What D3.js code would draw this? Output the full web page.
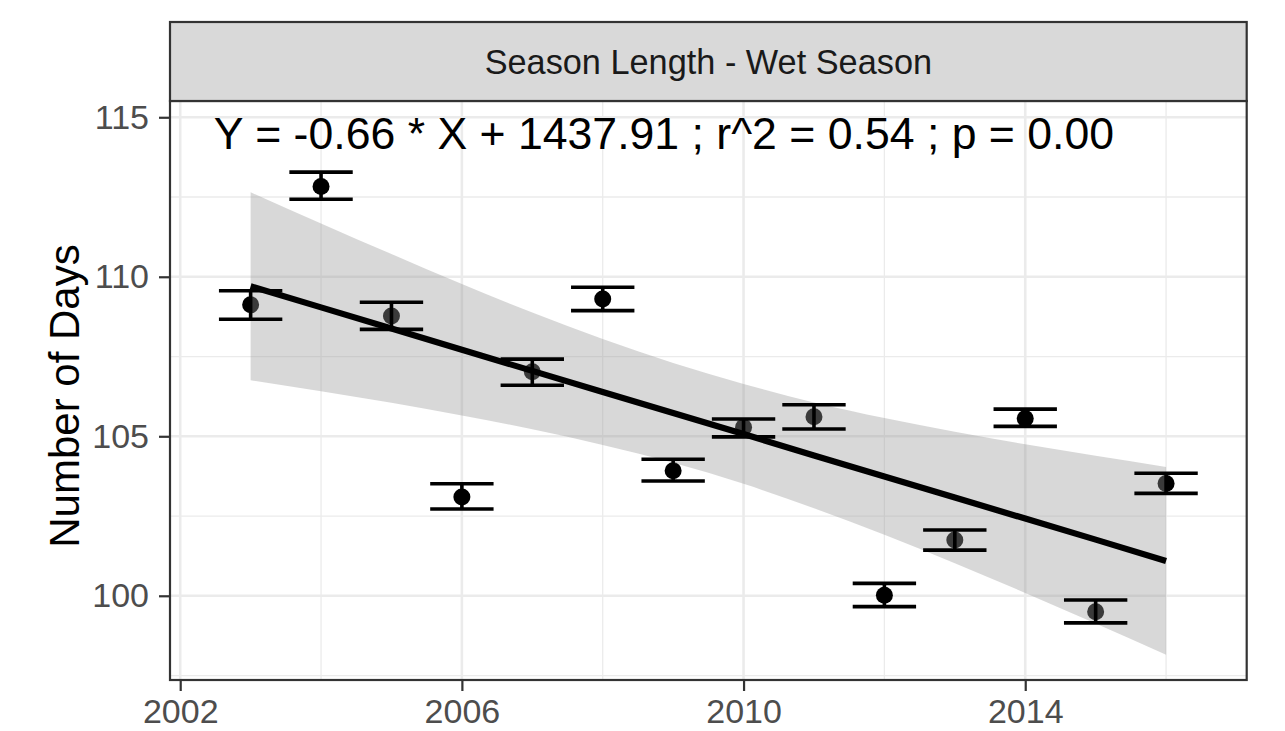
<!DOCTYPE html>
<html>
<head>
<meta charset="utf-8">
<script src="https://cdn.jsdelivr.net/npm/d3@7"></script>
<style>
  body { margin: 0; background: #fff; }
  text { font-family: "Liberation Sans", Arial, Helvetica, sans-serif; }
</style>
</head>
<body>
<div id="chart"></div>
<script>
// wet season length per year, mean with error bars, plus the lm fit and its 95% band

const years = [2003, 2004, 2005, 2006, 2007, 2008, 2009, 2010, 2011, 2012, 2013, 2014, 2015, 2016];
const meanDays = [109.12, 112.83, 108.77, 103.10, 107.02, 109.30, 103.92, 105.28, 105.61, 100.02, 101.75, 105.56, 99.50, 103.52];
const lowerDays = [108.67, 112.43, 108.35, 102.72, 106.60, 108.94, 103.60, 104.98, 105.23, 99.66, 101.43, 105.31, 99.15, 103.21];
const upperDays = [109.56, 113.28, 109.20, 103.51, 107.42, 109.67, 104.28, 105.54, 105.99, 100.39, 102.06, 105.85, 99.87, 103.84];

const fitDays = [109.70, 109.04, 108.38, 107.71, 107.05, 106.39, 105.73, 105.07, 104.40, 103.74, 103.08, 102.42, 101.76, 101.09];
const bandLow = [106.76, 106.41, 106.05, 105.65, 105.22, 104.73, 104.17, 103.51, 102.74, 101.91, 101.02, 100.09, 99.13, 98.15];
const bandHigh = [112.65, 111.67, 110.71, 109.77, 108.88, 108.05, 107.30, 106.64, 106.06, 105.57, 105.14, 104.75, 104.39, 104.04];

const xTicks = [2002, 2006, 2010, 2014];
const xMinor = [2004, 2008, 2012, 2016];
const yTicks = [100, 105, 110, 115];
const yMinor = [97.5, 102.5, 107.5, 112.5];

const stripLabel = 'Season Length - Wet Season';
const yTitle = 'Number of Days';
const equationLabel = 'Y = -0.66 * X + 1437.91 ; r^2 = 0.54 ; p = 0.00';

const W = 1285, H = 731;
const panel = { left: 170, right: 1246.7, top: 101, bottom: 680 };
const stripTop = 22;

const x = d3.scaleLinear().domain([2001.855, 2017.145]).range([panel.left, panel.right]);
const y = d3.scaleLinear().domain([97.36, 115.51]).range([panel.bottom, panel.top]);

const rows = years.map((yr, i) => ({
  year: yr, mean: meanDays[i], lo: lowerDays[i], hi: upperDays[i],
  fit: fitDays[i], bandLo: bandLow[i], bandHi: bandHigh[i]
}));

const svg = d3.select('#chart').append('svg')
  .attr('width', W)
  .attr('height', H);

// panel background + grid
svg.append('rect')
  .attr('x', panel.left).attr('y', panel.top)
  .attr('width', panel.right - panel.left).attr('height', panel.bottom - panel.top)
  .attr('fill', '#fff');

const grid = svg.append('g');
grid.selectAll('.ymin').data(yMinor).enter().append('line')
  .attr('x1', panel.left).attr('x2', panel.right)
  .attr('y1', d => y(d)).attr('y2', d => y(d))
  .attr('stroke', '#ebebeb').attr('stroke-width', 1.3);
grid.selectAll('.xmin').data(xMinor).enter().append('line')
  .attr('y1', panel.top).attr('y2', panel.bottom)
  .attr('x1', d => x(d)).attr('x2', d => x(d))
  .attr('stroke', '#ebebeb').attr('stroke-width', 1.3);
grid.selectAll('.ymaj').data(yTicks).enter().append('line')
  .attr('x1', panel.left).attr('x2', panel.right)
  .attr('y1', d => y(d)).attr('y2', d => y(d))
  .attr('stroke', '#ebebeb').attr('stroke-width', 2.6);
grid.selectAll('.xmaj').data(xTicks).enter().append('line')
  .attr('y1', panel.top).attr('y2', panel.bottom)
  .attr('x1', d => x(d)).attr('x2', d => x(d))
  .attr('stroke', '#ebebeb').attr('stroke-width', 2.6);

// points first, the band goes over them (like the original)
svg.append('g').selectAll('circle')
  .data(rows).enter().append('circle')
  .attr('cx', d => x(d.year))
  .attr('cy', d => y(d.mean))
  .attr('r', 8.5)
  .attr('fill', '#000');

const band = d3.area()
  .x(d => x(d.year))
  .y0(d => y(d.bandLo))
  .y1(d => y(d.bandHi))
  .curve(d3.curveMonotoneX);

svg.append('path')
  .datum(rows)
  .attr('d', band)
  .attr('fill', '#999999')
  .attr('fill-opacity', 0.38);

svg.append('path')
  .datum(rows)
  .attr('d', d3.line().x(d => x(d.year)).y(d => y(d.fit)))
  .attr('fill', 'none')
  .attr('stroke', '#000')
  .attr('stroke-width', 6.2);

// error bars, width 0.9 yr
const bars = svg.append('g').attr('stroke', '#000').attr('stroke-width', 3.6);
const halfW = 0.45;
bars.selectAll('.v').data(rows).enter().append('line')
  .attr('x1', d => x(d.year)).attr('x2', d => x(d.year))
  .attr('y1', d => y(d.lo)).attr('y2', d => y(d.hi));
bars.selectAll('.t').data(rows).enter().append('line')
  .attr('x1', d => x(d.year - halfW)).attr('x2', d => x(d.year + halfW))
  .attr('y1', d => y(d.hi)).attr('y2', d => y(d.hi));
bars.selectAll('.b').data(rows).enter().append('line')
  .attr('x1', d => x(d.year - halfW)).attr('x2', d => x(d.year + halfW))
  .attr('y1', d => y(d.lo)).attr('y2', d => y(d.lo));

// equation label
svg.append('text')
  .attr('x', x(2008.87))
  .attr('y', y(114.0))
  .attr('text-anchor', 'middle')
  .attr('font-size', 44.6)
  .attr('fill', '#000')
  .text(equationLabel);

// panel border
svg.append('rect')
  .attr('x', panel.left).attr('y', panel.top)
  .attr('width', panel.right - panel.left).attr('height', panel.bottom - panel.top)
  .attr('fill', 'none')
  .attr('stroke', '#333').attr('stroke-width', 2.2);

// facet strip
svg.append('rect')
  .attr('x', panel.left).attr('y', stripTop)
  .attr('width', panel.right - panel.left).attr('height', panel.top - stripTop)
  .attr('fill', '#d9d9d9')
  .attr('stroke', '#333').attr('stroke-width', 2.2);
svg.append('text')
  .attr('x', (panel.left + panel.right) / 2)
  .attr('y', 74)
  .attr('text-anchor', 'middle')
  .attr('font-size', 34.3)
  .attr('fill', '#1a1a1a')
  .text(stripLabel);

// axes
const yAxis = svg.append('g')
  .attr('transform', `translate(${panel.left},0)`)
  .call(d3.axisLeft(y).tickValues(yTicks).tickSize(11).tickPadding(10));
const xAxis = svg.append('g')
  .attr('transform', `translate(0,${panel.bottom})`)
  .call(d3.axisBottom(x).tickValues(xTicks).tickFormat(d3.format('d')).tickSize(11).tickPadding(8));

[yAxis, xAxis].forEach(ax => {
  ax.select('.domain').remove();
  ax.selectAll('.tick line').attr('stroke', '#333').attr('stroke-width', 2.2);
  ax.selectAll('.tick text')
    .attr('fill', '#4d4d4d')
    .attr('font-size', 34)
    .attr('font-family', '"Liberation Sans", Arial, Helvetica, sans-serif');
});

svg.append('text')
  .attr('transform', `translate(79,396) rotate(-90)`)
  .attr('text-anchor', 'middle')
  .attr('font-size', 42)
  .attr('fill', '#000')
  .text(yTitle);
</script>
</body>
</html>
